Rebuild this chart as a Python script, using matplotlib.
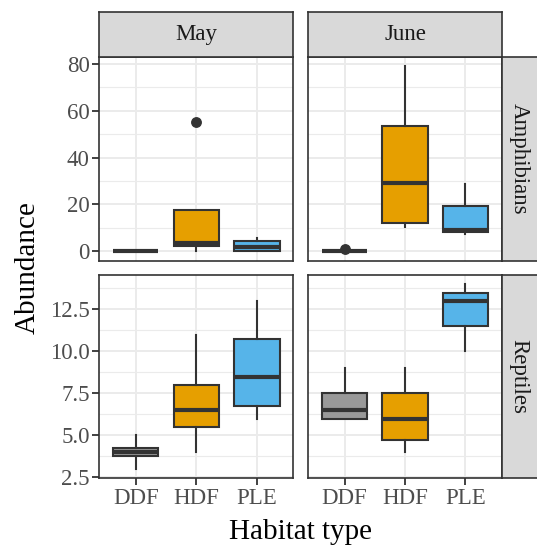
import matplotlib
matplotlib.use("Agg")
import matplotlib.pyplot as plt

plt.rcParams['font.family'] = ['Liberation Serif', 'DejaVu Serif']

habitats = ["DDF", "HDF", "PLE"]
months = ["May", "June"]
taxa = ["Amphibians", "Reptiles"]
colors = {"DDF": "#999999", "HDF": "#E69F00", "PLE": "#56B4E9"}

# Box statistics per habitat (DDF, HDF, PLE)
amph_may_lo = [0, 0, 0]
amph_may_q1 = [0, 2.2, 0.3]
amph_may_med = [0, 3.5, 2.0]
amph_may_q3 = [0, 17.5, 4.5]
amph_may_hi = [0, 17.5, 5.9]
amph_may_fl = [[], [55.2], []]

amph_jun_lo = [0, 10.4, 7.3]
amph_jun_q1 = [0, 12.1, 8.3]
amph_jun_med = [0, 29.0, 9.2]
amph_jun_q3 = [0, 53.5, 19.3]
amph_jun_hi = [0, 78.9, 28.7]
amph_jun_fl = [[1.2], [], []]

rept_may_lo = [3.0, 4.0, 6.0]
rept_may_q1 = [3.75, 5.5, 6.75]
rept_may_med = [4.0, 6.5, 8.5]
rept_may_q3 = [4.25, 8.0, 10.75]
rept_may_hi = [5.0, 11.0, 13.0]
rept_may_fl = [[], [], []]

rept_jun_lo = [6.0, 4.0, 10.0]
rept_jun_q1 = [6.0, 4.75, 11.5]
rept_jun_med = [6.5, 6.0, 13.0]
rept_jun_q3 = [7.5, 7.5, 13.5]
rept_jun_hi = [9.0, 9.0, 14.0]
rept_jun_fl = [[], [], []]

panels = {
    ("Amphibians", "May"): (amph_may_lo, amph_may_q1, amph_may_med, amph_may_q3, amph_may_hi, amph_may_fl),
    ("Amphibians", "June"): (amph_jun_lo, amph_jun_q1, amph_jun_med, amph_jun_q3, amph_jun_hi, amph_jun_fl),
    ("Reptiles", "May"): (rept_may_lo, rept_may_q1, rept_may_med, rept_may_q3, rept_may_hi, rept_may_fl),
    ("Reptiles", "June"): (rept_jun_lo, rept_jun_q1, rept_jun_med, rept_jun_q3, rept_jun_hi, rept_jun_fl),
}

amph_ticks = [0, 20, 40, 60, 80]
amph_minor = [10, 30, 50, 70]
amph_lim = (-3.95, 82.85)
rept_ticks = [2.5, 5.0, 7.5, 10.0, 12.5]
rept_minor = [3.75, 6.25, 8.75, 11.25, 13.75]
rept_lim = (2.45, 14.55)
rept_labels = ["2.5", "5.0", "7.5", "10.0", "12.5"]

W, H = 537, 547
fig = plt.figure(figsize=(W / 100, H / 100), dpi=100)

col_x = [(99.3, 194.0), (308.3, 193.4)]
row_y = [(57.0, 203.7), (275.0, 203.3)]

dark = "#333333"
grid_col = "#EBEBEB"

def px_rect(x, y, w, h):
    return [x / W, (H - y - h) / H, w / W, h / H]

for ri, taxon in enumerate(taxa):
    for ci, month in enumerate(months):
        x0, w = col_x[ci]
        y0, h = row_y[ri]
        ax = fig.add_axes(px_rect(x0, y0, w, h))
        lo, q1, med, q3, hi, fl = panels[(taxon, month)]
        stats = []
        for i, hab in enumerate(habitats):
            stats.append(dict(whislo=lo[i], q1=q1[i], med=med[i], q3=q3[i],
                              whishi=hi[i], fliers=fl[i], label=hab))
        bp = ax.bxp(stats, positions=[1, 2, 3], widths=0.75, patch_artist=True,
                    showcaps=False,
                    boxprops=dict(edgecolor=dark, linewidth=1.5),
                    medianprops=dict(color=dark, linewidth=3.0, solid_capstyle='butt'),
                    whiskerprops=dict(color=dark, linewidth=1.5),
                    flierprops=dict(marker='o', markerfacecolor=dark, markeredgecolor=dark,
                                    markersize=6.8),
                    zorder=3)
        for patch, hab in zip(bp['boxes'], habitats):
            patch.set_facecolor(colors[hab])
            patch.set_zorder(3)
        for m in bp['medians']:
            m.set_zorder(4)
        ax.set_xlim(0.4, 3.6)
        if taxon == "Amphibians":
            ax.set_ylim(*amph_lim)
            ax.set_yticks(amph_ticks)
            ax.set_yticks(amph_minor, minor=True)
            ax.set_yticklabels([str(t) for t in amph_ticks])
        else:
            ax.set_ylim(*rept_lim)
            ax.set_yticks(rept_ticks)
            ax.set_yticks(rept_minor, minor=True)
            ax.set_yticklabels(rept_labels)
        ax.set_xticks([1, 2, 3])
        ax.set_xticklabels(habitats)
        ax.grid(True, which='major', color=grid_col, linewidth=1.4, zorder=0)
        ax.grid(True, which='minor', axis='y', color=grid_col, linewidth=0.8, zorder=0)
        ax.set_axisbelow(True)
        for s in ax.spines.values():
            s.set_color(dark)
            s.set_linewidth(1.2)
        ax.tick_params(axis='both', which='major', length=5, width=1.3, color=dark,
                       labelsize=16.5, labelcolor="#4D4D4D", pad=2)
        ax.tick_params(axis='y', which='minor', length=0)
        if ci != 0:
            ax.tick_params(axis='y', labelleft=False, left=False, which='both')
        if ri != 1:
            ax.tick_params(axis='x', labelbottom=False, bottom=False)

        if ri == 0:
            sax = fig.add_axes(px_rect(x0, 12.0, w, 45.0))
            sax.set_facecolor("#D9D9D9")
            sax.set_xticks([]); sax.set_yticks([])
            for s in sax.spines.values():
                s.set_color(dark); s.set_linewidth(1.2)
            sax.text(0.5, 0.5, month, ha='center', va='center', fontsize=16.5,
                     color="#1A1A1A", transform=sax.transAxes)
        if ci == 1:
            sax = fig.add_axes(px_rect(501.7, y0, 38.0, h))
            sax.set_facecolor("#D9D9D9")
            sax.set_xticks([]); sax.set_yticks([])
            for s in sax.spines.values():
                s.set_color(dark); s.set_linewidth(1.2)
            sax.text(17.5 / 38.0, 0.5, taxon, ha='center', va='center', fontsize=16.5,
                     rotation=-90, color="#1A1A1A", transform=sax.transAxes)

fig.text(300.5 / W, 1 - 532 / H, "Habitat type", ha='center', va='center', fontsize=21)
fig.text(28 / W, 1 - 268 / H, "Abundance", ha='center', va='center', fontsize=21, rotation=90)

fig.savefig("out.png", dpi=100)
